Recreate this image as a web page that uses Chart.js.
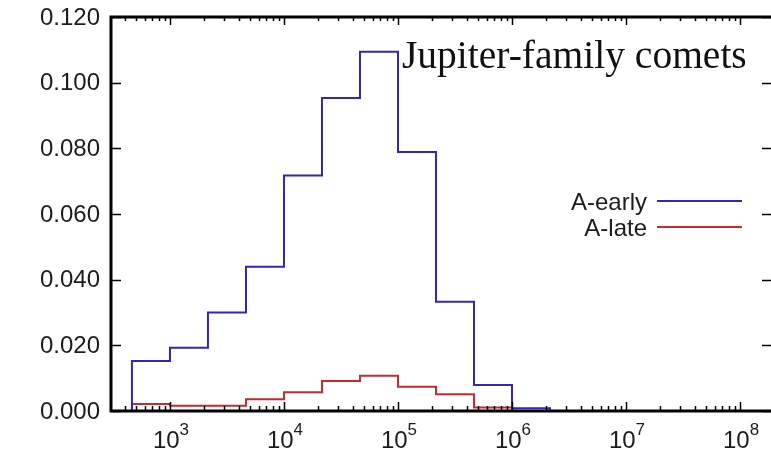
<!DOCTYPE html>
<html>
<head>
<meta charset="utf-8">
<script src="https://cdn.jsdelivr.net/npm/chart.js@4.4.1/dist/chart.umd.min.js"></script>
<style>
  body { margin: 0; background: #fff; }
</style>
</head>
<body>
<canvas id="cometChart" width="771" height="453"></canvas>
<script>
// histogram bin edges, third-of-a-decade bins
const binEdges = [464, 1000, 2154, 4642, 10000, 21544, 46416, 100000, 215443, 464159, 1000000, 2154435];
const earlyValues = [0.0152, 0.0193, 0.0300, 0.0439, 0.0717, 0.0953, 0.1094, 0.0789, 0.0333, 0.0079, 0.0008];
const lateValues = [0.0021, 0.0016, 0.0016, 0.0036, 0.0057, 0.0091, 0.0107, 0.0074, 0.0051, 0.0011];
const yTickValues = [0, 0.02, 0.04, 0.06, 0.08, 0.1, 0.12];
const xTickExponents = [3, 4, 5, 6, 7, 8];
const seriesNames = ["A-early", "A-late"];
const titleText = "Jupiter-family comets";

const blue = "#3a22b4";
const red = "#c42a30";

// turn bin heights into an outline that starts and ends on zero
function histOutline(values) {
  const pts = [{ x: binEdges[0], y: 0 }];
  values.forEach((v, i) => pts.push({ x: binEdges[i], y: v }));
  const last = values.length;
  pts.push({ x: binEdges[last], y: values[last - 1] });
  pts.push({ x: binEdges[last], y: 0 });
  return pts;
}

const framePlugin = {
  id: "frame",
  afterDraw(chart) {
    const { ctx, chartArea: a } = chart;
    const xs = chart.scales.x, ys = chart.scales.y;
    ctx.save();
    ctx.strokeStyle = "#000";

    // ticks on all four sides, pointing inward
    ctx.lineWidth = 1.5;
    ctx.beginPath();
    yTickValues.forEach(v => {
      const y = Math.round(ys.getPixelForValue(v)) + 0.5;
      ctx.moveTo(a.left, y); ctx.lineTo(a.left + 10, y);
      ctx.moveTo(a.right, y); ctx.lineTo(a.right - 9, y);
    });
    for (let d = 2; d <= 8; d++) {
      for (let m = 1; m <= 9; m++) {
        const v = m * Math.pow(10, d);
        if (v < xs.min || v > xs.max) continue;
        const x = Math.round(xs.getPixelForValue(v)) + 0.5;
        const len = m === 1 ? 9 : 5;
        ctx.moveTo(x, a.bottom); ctx.lineTo(x, a.bottom - len);
        ctx.moveTo(x, a.top); ctx.lineTo(x, a.top + len - 1);
      }
    }
    ctx.stroke();

    // axis frame
    ctx.lineWidth = 3;
    ctx.beginPath();
    ctx.moveTo(a.left, a.top); ctx.lineTo(a.right + 4, a.top);
    ctx.moveTo(a.left, a.top - 1.5); ctx.lineTo(a.left, a.bottom + 1.5);
    ctx.moveTo(a.left, a.bottom); ctx.lineTo(a.right + 4, a.bottom);
    ctx.stroke();

    // y tick labels
    ctx.fillStyle = "#1c1c1c";
    ctx.font = '24px "Liberation Sans", Arial, sans-serif';
    ctx.textAlign = "right";
    ctx.textBaseline = "middle";
    yTickValues.forEach(v => {
      ctx.fillText(v.toFixed(3), 100, ys.getPixelForValue(v) + 1);
    });

    // x tick labels as powers of ten
    ctx.textAlign = "left";
    ctx.textBaseline = "alphabetic";
    xTickExponents.forEach(e => {
      const x = xs.getPixelForValue(Math.pow(10, e));
      ctx.font = '24px "Liberation Sans", Arial, sans-serif';
      const wBase = ctx.measureText("10").width;
      ctx.font = '17px "Liberation Sans", Arial, sans-serif';
      const wExp = ctx.measureText(String(e)).width;
      const x0 = x - (wBase + wExp) / 2 + 1;
      ctx.font = '24px "Liberation Sans", Arial, sans-serif';
      ctx.fillText("10", x0, 448);
      ctx.font = '17px "Liberation Sans", Arial, sans-serif';
      ctx.fillText(String(e), x0 + wBase, 435);
    });

    // title inside the plot
    ctx.fillStyle = "#111";
    ctx.font = '39.5px "Liberation Serif", "Times New Roman", serif';
    ctx.fillText(titleText, 402, 68);

    // legend: label on the left, sample line on the right
    ctx.font = '24px "Liberation Sans", Arial, sans-serif';
    ctx.textAlign = "right";
    ctx.fillStyle = "#1c1c1c";
    const rows = [{ y: 201, base: 210 }, { y: 227, base: 236 }];
    chart.data.datasets.forEach((ds, i) => {
      ctx.fillText(seriesNames[i], 647, rows[i].base);
      ctx.strokeStyle = ds.borderColor;
      ctx.lineWidth = 2;
      ctx.beginPath();
      ctx.moveTo(657, rows[i].y); ctx.lineTo(742, rows[i].y);
      ctx.stroke();
    });
    ctx.restore();
  }
};

const ctx = document.getElementById("cometChart").getContext("2d");

new Chart(ctx, {
  type: "line",
  data: {
    datasets: [
      {
        label: seriesNames[0],
        data: histOutline(earlyValues),
        borderColor: blue,
        borderWidth: 2,
        stepped: true,
        pointRadius: 0,
        fill: false,
      },
      {
        label: seriesNames[1],
        data: histOutline(lateValues),
        borderColor: red,
        borderWidth: 2,
        stepped: true,
        pointRadius: 0,
        fill: false,
      },
    ],
  },
  options: {
    responsive: false,
    animation: false,
    layout: { padding: { left: 111, top: 17, right: 0, bottom: 42 } },
    plugins: {
      legend: { display: false },
      tooltip: { enabled: false },
    },
    scales: {
      x: {
        type: "logarithmic",
        display: false,
        min: 304,
        max: 1.87e8,
      },
      y: {
        display: false,
        min: 0,
        max: 0.12,
      },
    },
  },
  plugins: [framePlugin],
});
</script>
</body>
</html>
